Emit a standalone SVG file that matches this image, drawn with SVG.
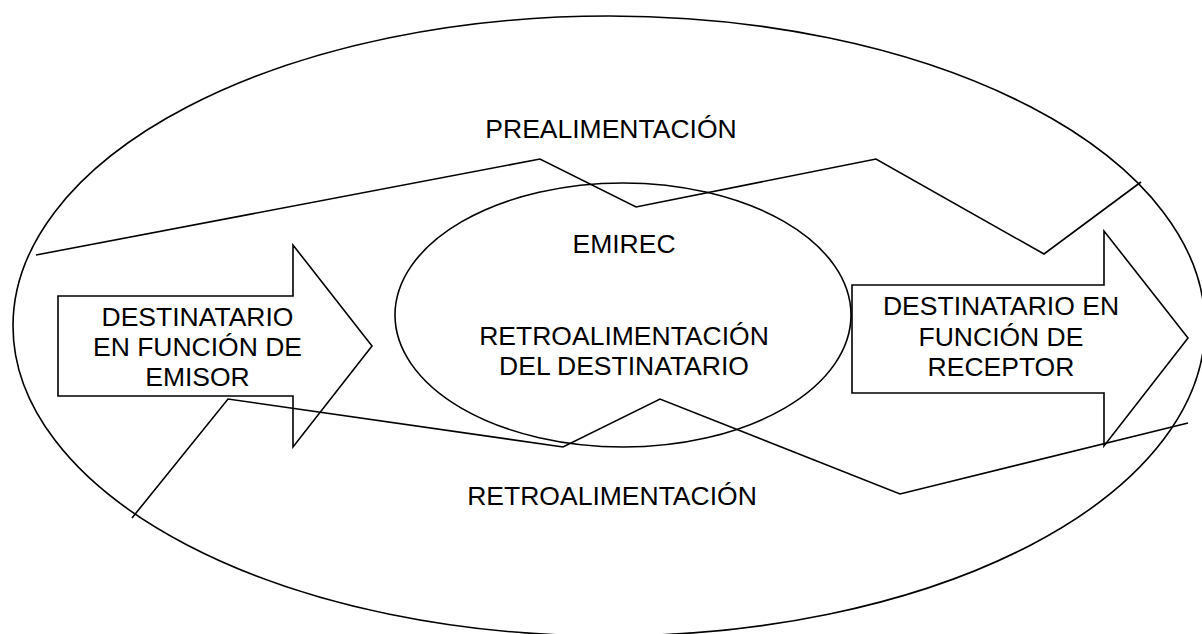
<svg xmlns="http://www.w3.org/2000/svg" width="1202" height="634" viewBox="0 0 1202 634">
<style>
.s{fill:none;stroke:#000;stroke-width:1.6;stroke-linejoin:miter}
.t{font-family:"Liberation Sans",Arial,sans-serif;font-size:26.5px;fill:#000;text-anchor:middle}
</style>
<rect width="1202" height="634" fill="#fff"/>
<g id="outer-ellipse">
<ellipse class="s" cx="609" cy="326" rx="596" ry="310"/>
<text class="t" x="611" y="138">PREALIMENTACIÓN</text>
<text class="t" x="612" y="505">RETROALIMENTACIÓN</text>
</g>
<g id="emirec">
<ellipse class="s" cx="623" cy="315" rx="228" ry="132"/>
<text class="t" x="624" y="253">EMIREC</text>
<text class="t" x="624" y="345">RETROALIMENTACIÓN</text>
<text class="t" x="624" y="375">DEL DESTINATARIO</text>
</g>
<g id="arrow-emisor">
<polygon class="s" points="58,296 293,296 293,245 372,346 293,447 293,396 58,396"/>
<text class="t" x="197.5" y="326">DESTINATARIO</text>
<text class="t" x="197.5" y="356">EN FUNCIÓN DE</text>
<text class="t" x="197.5" y="386">EMISOR</text>
</g>
<g id="arrow-receptor">
<polygon class="s" points="852,285 1104,285 1104,231 1188,338 1104,446 1104,393 852,393"/>
<text class="t" x="1001" y="315">DESTINATARIO EN</text>
<text class="t" x="1001" y="346">FUNCIÓN DE</text>
<text class="t" x="1001" y="376">RECEPTOR</text>
</g>
<g id="connectors">
<polyline class="s" points="36,255 540,159 636,207 876,159 1044,254 1141,182"/>
<polyline class="s" points="132,518 228,399 563,447 660,399 900,494 1188,423"/>
</g>
</svg>
